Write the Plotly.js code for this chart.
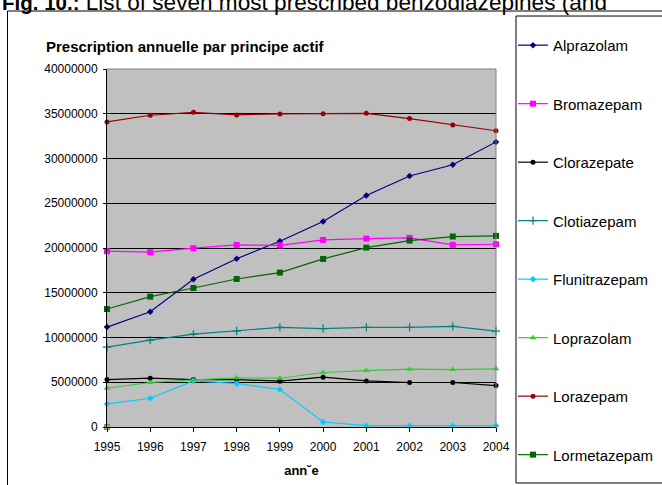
<!DOCTYPE html>
<html>
<head>
<meta charset="utf-8">
<script src="https://cdn.plot.ly/plotly-3.0.1.min.js"></script>
<style>html,body{margin:0;padding:0;background:#fff;overflow:hidden;width:662px;height:485px;}#chart{width:680px;height:485px;}</style>
</head>
<body>
<div id="chart"></div>
<script>
const years = [1995, 1996, 1997, 1998, 1999, 2000, 2001, 2002, 2003, 2004];
const yTicks = [0, 5000000, 10000000, 15000000, 20000000, 25000000, 30000000, 35000000, 40000000];

const alprazolam    = [11160000, 12880000, 16500000, 18800000, 20760000, 22960000, 25870000, 28040000, 29300000, 31850000];
const bromazepam    = [19640000, 19530000, 19980000, 20350000, 20300000, 20900000, 21050000, 21130000, 20350000, 20420000];
const clorazepate   = [5300000, 5450000, 5300000, 5300000, 5120000, 5570000, 5150000, 4970000, 4970000, 4630000];
const clotiazepam   = [8930000, 9710000, 10380000, 10720000, 11130000, 11000000, 11130000, 11130000, 11240000, 10720000];
const flunitrazepam = [2580000, 3210000, 5150000, 4860000, 4190000, 560000, 150000, 150000, 150000, 150000];
const loprazolam    = [4330000, 4970000, 5260000, 5490000, 5450000, 6090000, 6310000, 6460000, 6420000, 6500000];
const lorazepam     = [34090000, 34830000, 35160000, 34870000, 34980000, 35000000, 35050000, 34460000, 33750000, 33100000];
const lormetazepam  = [13180000, 14560000, 15530000, 16540000, 17250000, 18780000, 20040000, 20830000, 21280000, 21360000];
const strayYear = [1995];
const strayValue = [0];

const names = ["Alprazolam", "Bromazepam", "Clorazepate", "Clotiazepam", "Flunitrazepam", "Loprazolam", "Lorazepam", "Lormetazepam"];
const seriesData = [alprazolam, bromazepam, clorazepate, clotiazepam, flunitrazepam, loprazolam, lorazepam, lormetazepam];
const colors = ["#000080", "#FF00FF", "#000000", "#008080", "#00CCFF", "#33CC33", "#990000", "#006600"];
const symbols = ["diamond", "square", "circle", "cross-thin", "diamond", "triangle-up", "circle", "square"];
const sizes = [5, 6, 5, 6, 5, 6, 5, 6];

const traces = seriesData.map((vals, i) => ({
  type: "scatter",
  mode: "lines+markers",
  name: names[i],
  legendgroup: "g" + i,
  x: years,
  y: vals,
  line: {color: colors[i], width: 1.2},
  marker: {color: colors[i], symbol: symbols[i], size: sizes[i],
           line: {color: colors[i], width: symbols[i] === "cross-thin" ? 1.2 : 0}},
  cliponaxis: false
}));
traces.push({
  type: "scatter", mode: "markers", x: strayYear, y: strayValue, showlegend: false,
  marker: {color: "#D4A850", symbol: "square", size: 5, line: {color: "#6A7FA0", width: 1}},
  cliponaxis: false, hoverinfo: "skip"
});

const font = "Liberation Sans, Arial, sans-serif";
const W = 680;
const layout = {
  width: W, height: 485,
  margin: {l: 107, r: W - 496, t: 69, b: 58},
  paper_bgcolor: "#ffffff",
  plot_bgcolor: "#C0C0C0",
  font: {family: font, size: 12, color: "#000"},
  showlegend: true,
  legend: {
    x: (513 - 107) / 389, xanchor: "left", y: 1.112, yanchor: "top",
    font: {family: font, size: 15, color: "#000"},
    bgcolor: "rgba(0,0,0,0)", borderwidth: 0,
    tracegroupgap: 36, traceorder: "grouped", maxheight: 480
  },
  xaxis: {
    range: [1995, 2004], tickvals: years, ticktext: years.map(String),
    showgrid: false, zeroline: false,
    showline: true, linecolor: "#000", linewidth: 1,
    ticks: "outside", ticklen: 4, tickcolor: "#000",
    ticklabelstandoff: 5,
    tickfont: {family: font, size: 12},
    title: {text: "ann˘e", font: {family: font, size: 13, weight: "bold"}, standoff: 12}
  },
  yaxis: {
    range: [0, 40000000], tickvals: yTicks, tickformat: "d",
    showgrid: true, gridcolor: "#000", gridwidth: 1, zeroline: false,
    showline: true, linecolor: "#000", linewidth: 1,
    ticks: "outside", ticklen: 3, tickcolor: "#000",
    ticklabelstandoff: 3,
    tickfont: {family: font, size: 12}
  },
  shapes: [
    {type: "line", xref: "paper", yref: "paper", x0: 0, x1: 1, y0: 1, y1: 1, line: {color: "#808080", width: 1}},
    {type: "line", xref: "paper", yref: "paper", x0: 1, x1: 1, y0: 0, y1: 1, line: {color: "#808080", width: 1}},
    {type: "rect", xref: "paper", yref: "paper", x0: -0.2558, x1: 1.5, y0: -0.18, y1: 1.162, line: {color: "#000", width: 1}, fillcolor: "rgba(0,0,0,0)"},
    {type: "rect", xref: "paper", yref: "paper", x0: 1.0514, x1: 1.5, y0: -0.1564, y1: 1.148, line: {color: "#000", width: 1}, fillcolor: "rgba(0,0,0,0)"}
  ],
  annotations: [
    {text: "Prescription annuelle par principe actif", xref: "paper", yref: "paper",
     x: (185 - 107) / 389, y: 1 + (69 - 47) / 358, xanchor: "center", yanchor: "middle",
     showarrow: false, font: {family: font, size: 15, weight: "bold", color: "#000"}},
    {text: "<b><span style=\"font-size:20.5px\">Fig. 10.:</span></b> List of seven most prescribed benzodiazepines (and", xref: "paper", yref: "paper",
     x: (0 - 107) / 389, y: 1 + (69 - 17) / 358, xanchor: "left", yanchor: "bottom",
     showarrow: false, font: {family: font, size: 22.6, color: "#000"}}
  ]
};

Plotly.newPlot("chart", traces, layout, {displayModeBar: false, staticPlot: true});
</script>
</body>
</html>
